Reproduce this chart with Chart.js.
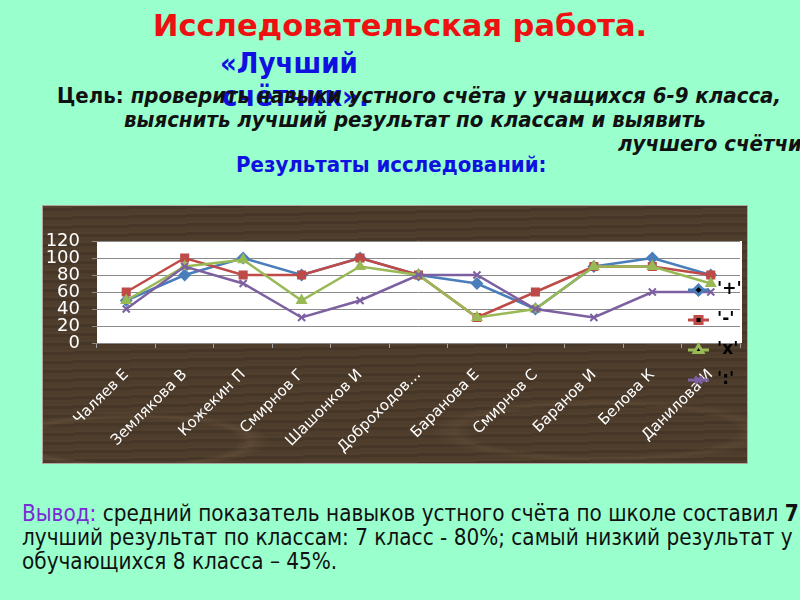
<!DOCTYPE html>
<html>
<head>
<meta charset="utf-8">
<script src="https://cdn.jsdelivr.net/npm/chart.js@4/dist/chart.umd.min.js"></script>
<style>
  html, body { margin: 0; padding: 0; }
  body {
    width: 800px; height: 600px; overflow: hidden; position: relative;
    background: #99ffcc;
    font-family: "DejaVu Sans", sans-serif;
  }
  .t { position: absolute; white-space: nowrap; font-stretch: condensed; }
  #title { left: 0; width: 800px; top: 8px; text-align: center; color: #ee1111; font-weight: bold; font-size: 30.5px; font-stretch: normal; }
  #sub1 { left: 220px; top: 46px; color: #1010e0; font-weight: bold; font-size: 29px; }
  #sub2 { left: 222px; top: 79px; color: #1010e0; font-weight: bold; font-size: 29px; }
  #goal1 { left: 57px; top: 83px; font-size: 22px; font-weight: bold; color: #111; }
  #goal2 { left: 124px; top: 107px; font-size: 22px; font-weight: bold; font-style: italic; color: #111; }
  #goal3 { left: 618px; top: 131px; font-size: 22px; font-weight: bold; font-style: italic; color: #111; }
  #res { left: 236px; top: 152px; font-size: 22px; font-weight: bold; color: #1010e0; }
  #concl { left: 22px; top: 501px; font-size: 22.3px; line-height: 24px; color: #111; }
  #concl .v { color: #7a2ad6; }
  #box {
    position: absolute; left: 42px; top: 205px; width: 706px; height: 259px;
    border: 1px solid rgba(255,255,255,0.55); box-sizing: border-box;
    background:
      radial-gradient(ellipse 190px 40px at 90px 235px, rgba(0,0,0,0) 55%, rgba(200,170,130,0.10) 62%, rgba(0,0,0,0) 72%),
      radial-gradient(ellipse 240px 45px at 560px 225px, rgba(0,0,0,0) 55%, rgba(200,170,130,0.08) 62%, rgba(0,0,0,0) 72%),
      repeating-linear-gradient(179deg, rgba(220,190,150,0.04) 0 2px, rgba(0,0,0,0.07) 2px 5px, rgba(220,190,150,0.02) 5px 9px),
      #4b3a2a;
  }
</style>
</head>
<body>
<div class="t" id="title">Исследовательская работа.</div>
<div class="t" id="sub1">«Лучший</div>
<div class="t" id="sub2">счётчик».</div>
<div class="t" id="goal1">Цель: <i>проверить навыки устного счёта у учащихся 6-9 класса,</i></div>
<div class="t" id="goal2">выяснить лучший результат по классам и выявить</div>
<div class="t" id="goal3">лучшего счётчика.</div>
<div class="t" id="res">Результаты исследований:</div>
<div class="t" id="concl"><span class="v">Вывод:</span> средний показатель навыков устного счёта по школе составил <b>75%</b>;<br>лучший результат по классам: 7 класс - 80%; самый низкий результат у<br>обучающихся 8 класса – 45%.</div>
<div id="box"><canvas id="chart" width="704" height="257"></canvas></div>
<script>
let pupils = ["Чаляев Е", "Землякова В", "Кожекин П", "Смирнов Г", "Шашонков И", "Доброходов…",
    "Баранова Е", "Смирнов С", "Баранов И", "Белова К", "Данилова И"];

let seriesNames = ["'+'", "'-'", "'x'", "':'"];

let plusValues = [50, 80, 100, 80, 100, 80, 70, 40, 90, 100, 80];
let minusValues = [60, 100, 80, 80, 100, 80, 30, 60, 90, 90, 80];
let multValues = [50, 90, 98, 50, 90, 80, 30, 40, 90, 90, 70];
let divValues = [40, 90, 70, 30, 50, 80, 80, 40, 30, 60, 60];

let yTicks = [0, 20, 40, 60, 80, 100, 120];

let lineColors = ["#4a7ebb", "#be4b48", "#98b954", "#7d60a0"];
let markers = ["rectRot", "rect", "triangle", "crossRot"];

// white plot background
let plotBg = {
    id: "plotBg",
    beforeDraw(chart) {
        let a = chart.chartArea;
        let ctx = chart.ctx;
        ctx.save();
        ctx.fillStyle = "#ffffff";
        ctx.fillRect(a.left, a.top, a.right - a.left + 2, a.bottom - a.top);
        ctx.restore();
    },
};

// legend sits on top of the plot, like in the slide
let overLegend = {
    id: "overLegend",
    afterDraw(chart) {
        let ctx = chart.ctx;
        ctx.save();
        chart.data.datasets.forEach((ds, i) => {
            let y = 84 + i * 30;
            ctx.strokeStyle = ds.borderColor;
            ctx.lineWidth = 3;
            ctx.beginPath();
            ctx.moveTo(645, y);
            ctx.lineTo(666, y);
            ctx.stroke();
            Chart.helpers.drawPoint(ctx, {pointStyle: ds.pointStyle, radius: 5, rotation: 0, borderWidth: 2}, 655.5, y);
            ctx.fillStyle = "#000";
            ctx.font = "bold 17px 'DejaVu Sans'";
            ctx.textBaseline = "middle";
            ctx.fillText(ds.label, 674, y);
        });
        ctx.restore();
    },
};

let allSeries = [plusValues, minusValues, multValues, divValues];

let resultsChart = new Chart(document.getElementById("chart"), {
    type: "line",
    plugins: [plotBg, overLegend],
    data: {
        labels: pupils,
        datasets: allSeries.map((vals, i) => ({
            label: seriesNames[i],
            data: vals,
            borderColor: lineColors[i],
            backgroundColor: lineColors[i],
            pointStyle: markers[i],
            pointRadius: 5,
            pointBorderWidth: 2,
            borderWidth: 2.5,
            tension: 0,
            order: 3 - i,
        })),
    },
    options: {
        responsive: false,
        animation: false,
        layout: { padding: { top: 35, right: 1, left: 0, bottom: 0 } },
        plugins: {
            legend: { display: false },
            tooltip: { enabled: false },
        },
        scales: {
            y: {
                min: 0,
                max: 120,
                afterBuildTicks(s) { s.ticks = yTicks.map(v => ({ value: v })); },
                afterFit(s) { s.width = 54; },
                grid: { color: "#8a8a8a", tickLength: 5, lineWidth: 1 },
                border: { display: false },
                ticks: { color: "#ffffff", padding: 12, autoSkip: false, font: { size: 18, family: "DejaVu Sans" } },
            },
            x: {
                offset: true,
                afterFit(s) { s.height = 120; },
                grid: { drawOnChartArea: false, offset: true, tickLength: 5, color: "#a0a0a0" },
                border: { display: true, color: "#8a8a8a" },
                ticks: { color: "#ffffff", minRotation: 45, maxRotation: 45, padding: 18, autoSkip: false,
                    font: { size: 15, family: "DejaVu Sans" } },
            },
        },
    },
});
</script>
</body>
</html>
